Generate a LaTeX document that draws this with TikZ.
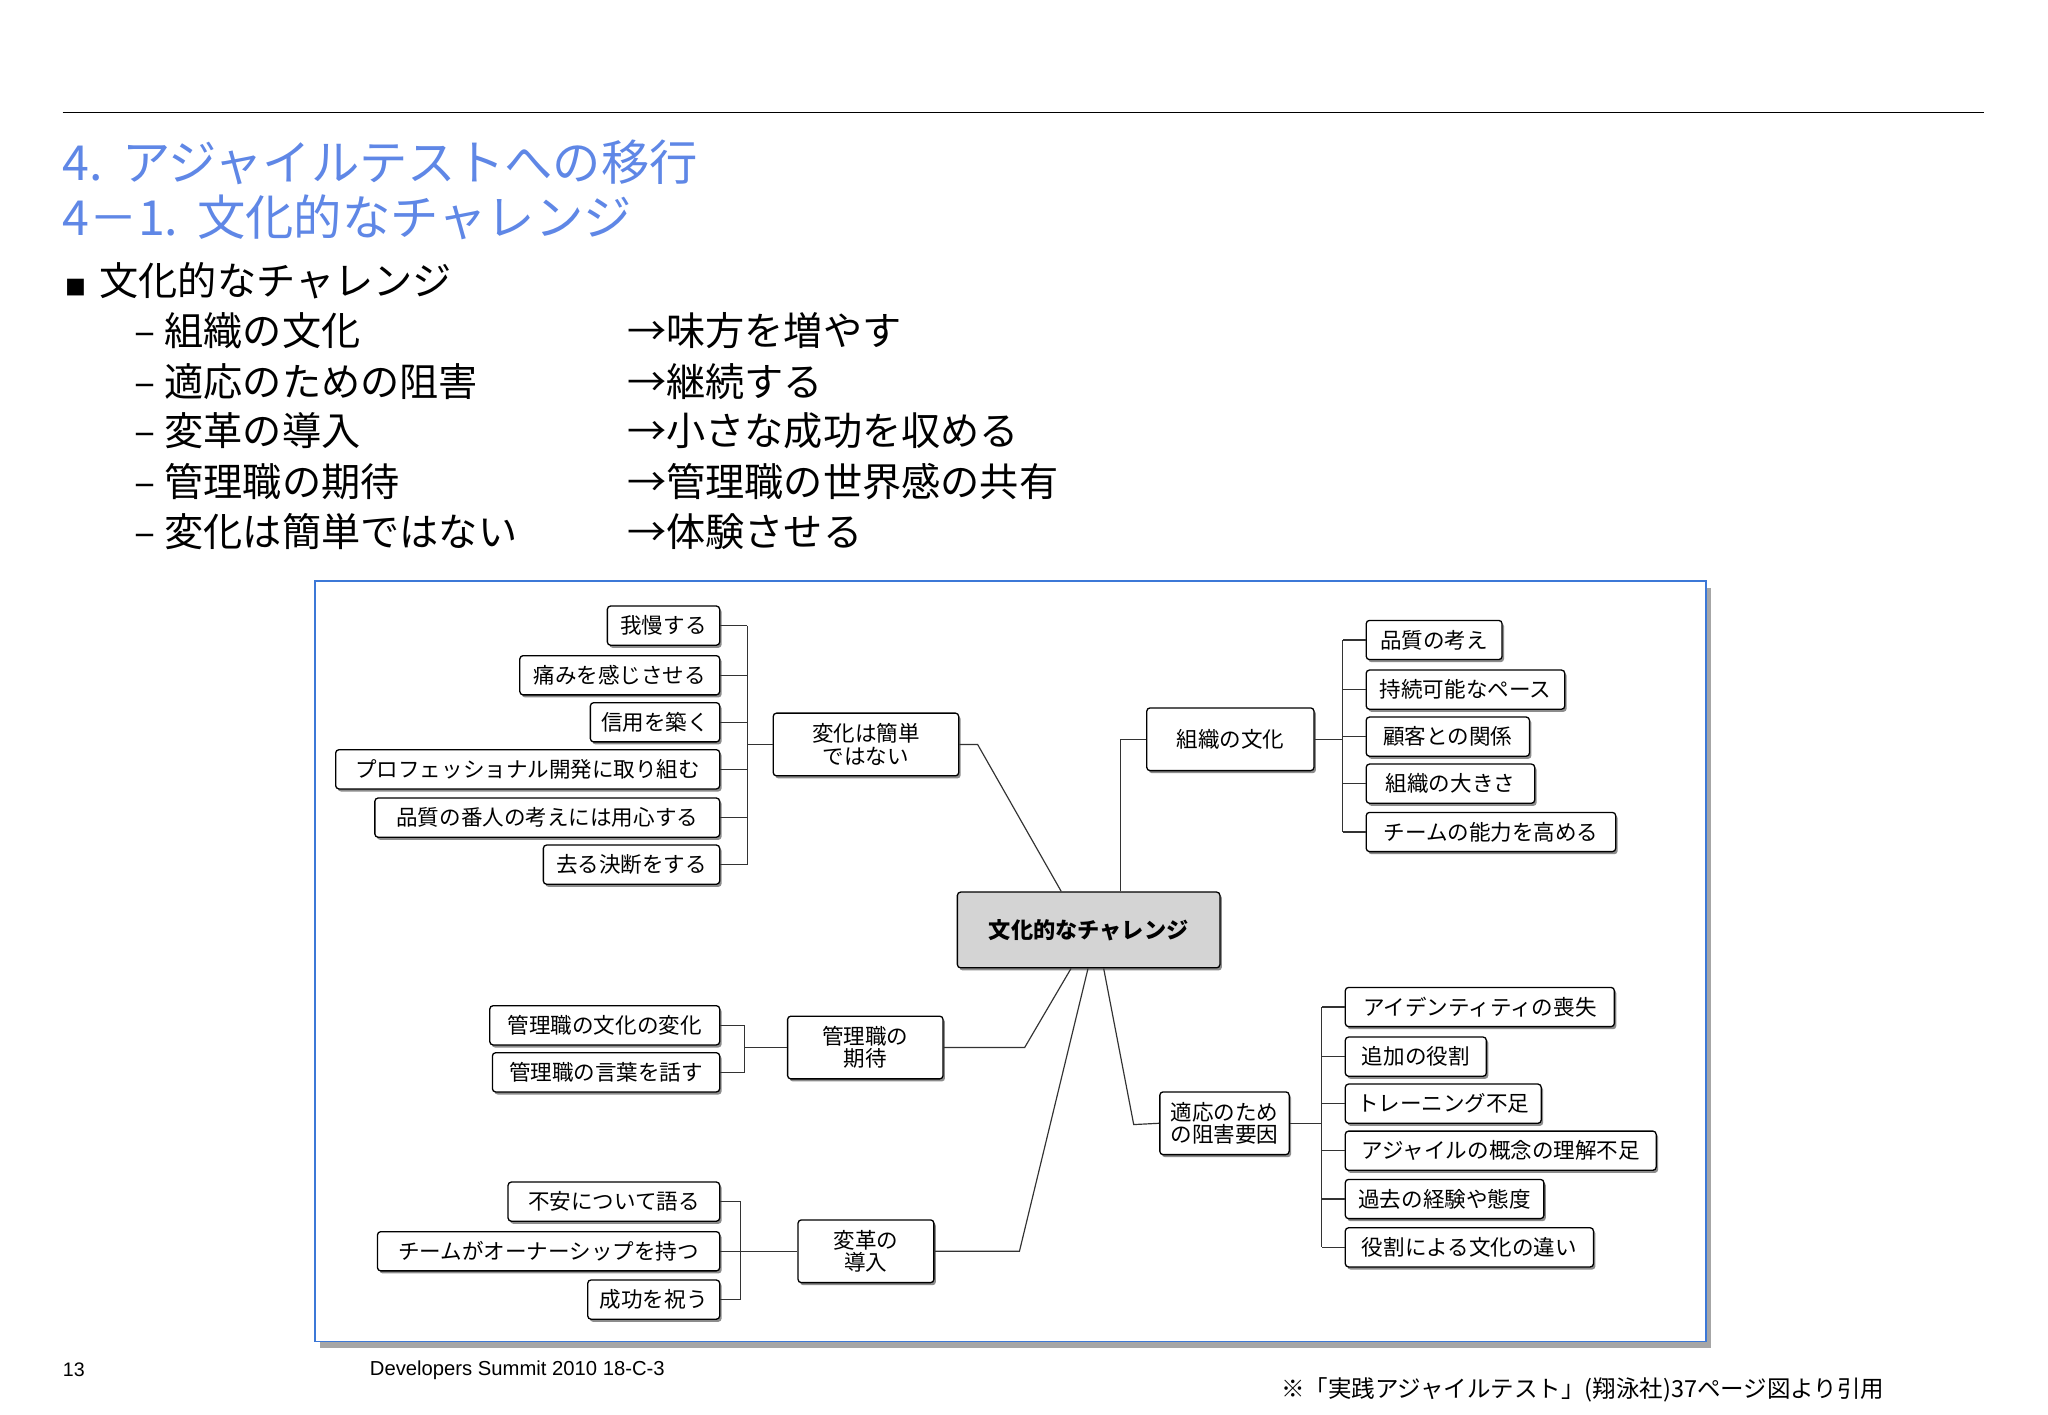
\documentclass[tikz,border=0pt]{standalone}
\usepackage{fontspec}
\setmainfont{Noto Sans CJK JP}
\newfontfamily\lat{Liberation Sans}
\usetikzlibrary{shadows}
\definecolor{ttl}{RGB}{95,135,230}
\definecolor{frm}{RGB}{60,120,215}
\begin{document}
\begin{tikzpicture}[x=1pt,y=-1pt,
  box/.style={draw=black,line width=1pt,rounded corners=2.5pt,fill=white,inner sep=0pt,
    font=\fontsize{16.5}{17}\selectfont,align=center,
    drop shadow={shadow xshift=1.5pt,shadow yshift=-2pt,fill=black!45,opacity=1}},
  ln/.style={line width=0.9pt,draw=black!80},
  big/.style={font=\fontsize{30}{31}\selectfont,anchor=west,inner sep=0pt},
  ttlst/.style={font=\fontsize{37}{38}\selectfont,anchor=west,inner sep=0pt,text=ttl}]
\newcommand\bx[7][]{\node[box,#1,minimum width={#4-#3},minimum height={#6-#5}] (#2) at ({(#3+#4)/2},{(#5+#6)/2}) {#7};}
\useasboundingbox (0,0) rectangle (1568,1083);
\draw[line width=1pt] (48,86) -- (1519,86);
\node[ttlst] (t1) at (48,124) {4.\ \,アジャイルテストへの移行};
\node[ttlst] (t2) at (48,166) {4－1.\ \,文化的なチャレンジ};
\node[big] (b0) at (50,215) {\fontsize{16}{16}\selectfont■\hspace{10pt}\fontsize{30}{31}\selectfont 文化的なチャレンジ};
\node[big] (l1) at (103,253) {– 組織の文化};
\node[big] (l2) at (103,292) {– 適応のための阻害};
\node[big] (l3) at (103,330) {– 変革の導入};
\node[big] (l4) at (103,369) {– 管理職の期待};
\node[big] (l5) at (103,407) {– 変化は簡単ではない};
\node[big] (r1) at (480,253) {→味方を増やす};
\node[big] (r2) at (480,292) {→継続する};
\node[big] (r3) at (480,330) {→小さな成功を収める};
\node[big] (r4) at (480,369) {→管理職の世界感の共有};
\node[big] (r5) at (480,407) {→体験させる};
% frame
\fill[black!35] (245,450) rectangle (1310,1032);
\draw[frm,line width=1.3pt,fill=white] (241,445) rectangle (1306,1027);
% central
\bx[fill=black!17,font=\fontsize{17}{18}\selectfont\bfseries]{C}{733}{934}{683}{741}{文化的なチャレンジ}
% group A
\bx{A}{592}{734}{546}{594}{変化は簡単\\ではない}
\bx{a1}{465}{551}{464}{494}{我慢する}
\bx{a2}{398}{551}{502}{532}{痛みを感じさせる}
\bx{a3}{452}{551}{538}{568}{信用を築く}
\bx{a4}{257}{551}{574}{604}{プロフェッショナル開発に取り組む}
\bx{a5}{287}{551}{611}{641}{品質の番人の考えには用心する}
\bx{a6}{416}{551}{647}{677}{去る決断をする}
\coordinate (bA) at (572,0);
\foreach \c in {a1,a2,a3,a4,a5,a6}{\draw[ln] (\c.east) -- (\c.east -| bA);}
\draw[ln] (a1.east -| bA) -- (a6.east -| bA);
\draw[ln] (bA |- A.west) -- (A.west);
\draw[ln] (A.east) -- ++(14,0) -- ([xshift=-21pt]C.north);
% group B
\bx{B}{878}{1006}{542}{590}{組織の文化}
\bx{b1}{1046}{1150}{475}{505}{品質の考え}
\bx{b2}{1046}{1198}{513}{543}{持続可能なペース}
\bx{b3}{1046}{1171}{549}{579}{顧客との関係}
\bx{b4}{1046}{1175}{585}{615}{組織の大きさ}
\bx{b5}{1046}{1237}{622}{652}{チームの能力を高める}
\coordinate (bB) at (1028,0);
\foreach \c in {b1,b2,b3,b4,b5}{\draw[ln] (\c.west) -- (\c.west -| bB);}
\draw[ln] (b1.west -| bB) -- (b5.west -| bB);
\draw[ln] (B.east) -- (bB |- B.east);
\draw[ln] ([xshift=24.5pt]C.north) |- (B.west);
% group D
\bx{D}{603}{722}{778}{826}{管理職の\\期待}
\bx{d1}{375}{551}{770}{800}{管理職の文化の変化}
\bx{d2}{377}{551}{806}{836}{管理職の言葉を話す}
\coordinate (bD) at (570,0);
\foreach \c in {d1,d2}{\draw[ln] (\c.east) -- (\c.east -| bD);}
\draw[ln] (d1.east -| bD) -- (d2.east -| bD);
\draw[ln] (bD |- D.west) -- (D.west);
\draw[ln] (D.east) -- ++(62,0) -- ([xshift=-13.5pt]C.south);
% group E
\bx{E}{611}{715}{934}{982}{変革の\\導入}
\bx{e1}{389}{551}{905}{935}{不安について語る}
\bx{e2}{289}{551}{943}{973}{チームがオーナーシップを持つ}
\bx{e3}{450}{551}{980}{1010}{成功を祝う}
\coordinate (bE) at (567,0);
\foreach \c in {e1,e2,e3}{\draw[ln] (\c.east) -- (\c.east -| bE);}
\draw[ln] (e1.east -| bE) -- (e3.east -| bE);
\draw[ln] (bE |- E.west) -- (E.west);
\draw[ln] (E.east) -- ++(65,0) -- ([xshift=-0.5pt]C.south);
% group F
\bx{F}{888}{987}{836}{884}{適応のため\\の阻害要因}
\bx{f1}{1030}{1236}{756}{786}{アイデンティティの喪失}
\bx{f2}{1030}{1138}{794}{824}{追加の役割}
\bx{f3}{1030}{1180}{830}{860}{トレーニング不足}
\bx{f4}{1030}{1268}{866}{896}{アジャイルの概念の理解不足}
\bx{f5}{1030}{1182}{903}{933}{過去の経験や態度}
\bx{f6}{1030}{1220}{940}{970}{役割による文化の違い}
\coordinate (bF) at (1012,0);
\foreach \c in {f1,f2,f3,f4,f5,f6}{\draw[ln] (\c.west) -- (\c.west -| bF);}
\draw[ln] (f1.west -| bF) -- (f6.west -| bF);
\draw[ln] (F.east) -- (bF |- F.east);
\draw[ln] ([xshift=11.5pt]C.south) -- (868,861) -- (F.west);
% footer
\node[anchor=west,inner sep=0pt,font=\lat\fontsize{15}{16}\selectfont] (pg) at (48,1049) {13};
\node[anchor=west,inner sep=0pt,font=\lat\fontsize{15.5}{16}\selectfont] (ev) at (283,1049) {Developers Summit 2010 18-C-3};
\node[anchor=east,inner sep=0pt,font=\fontsize{18}{19}\selectfont] (fn) at (1443,1064) {※「実践アジャイルテスト」(翔泳社)37ページ図より引用};
\end{tikzpicture}
\end{document}
